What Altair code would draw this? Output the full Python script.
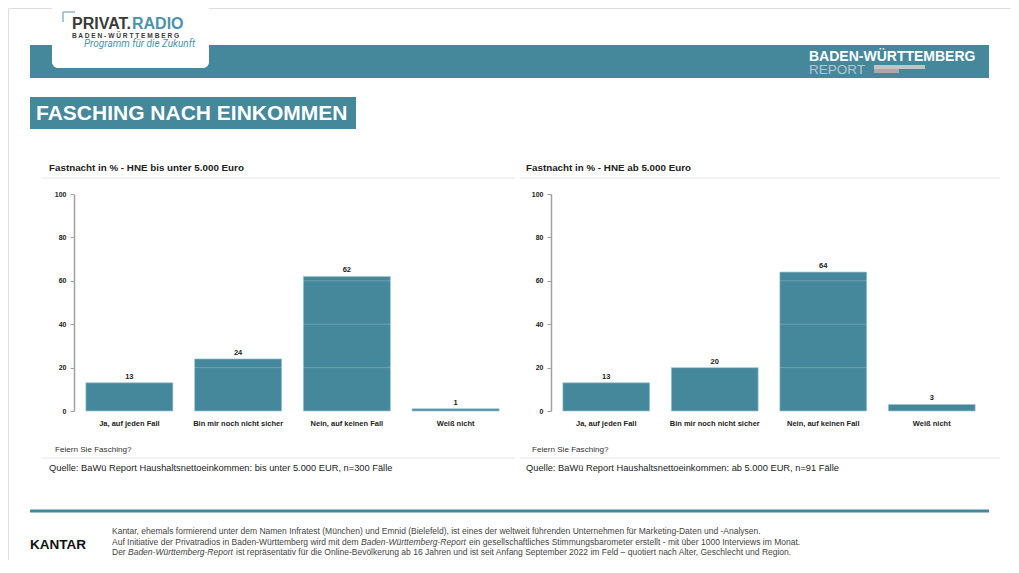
import altair as alt
import pandas as pd

# ---------------- data ----------------
categories = ["Ja, auf jeden Fall", "Bin mir noch nicht sicher", "Nein, auf keinen Fall", "Weiß nicht"]
values_low = [13, 24, 62, 1]      # HNE bis unter 5.000 Euro
values_high = [13, 20, 64, 3]     # HNE ab 5.000 Euro
y_ticks = [0, 20, 40, 60, 80, 100]

title_low = "Fastnacht in % - HNE bis unter 5.000 Euro"
title_high = "Fastnacht in % - HNE ab 5.000 Euro"
source_low = "Quelle: BaWü Report Haushaltsnettoeinkommen: bis unter 5.000 EUR, n=300 Fälle"
source_high = "Quelle: BaWü Report Haushaltsnettoeinkommen: ab 5.000 EUR, n=91 Fälle"
question = "Feiern Sie Fasching?"

W, H = 1003, 552
TEAL = "#45879B"
FONT = "Liberation Sans"
DARK = "#222222"
FOOT = "#444444"
FS = 8.5


def txt(t, x, y, size=9, color=DARK, weight="normal", style="normal", align="left",
        baseline="middle", font=FONT):
    return alt.Chart(pd.DataFrame({"t": [t]})).mark_text(
        align=align, baseline=baseline, fontSize=size, color=color,
        fontWeight=weight, fontStyle=style, font=font
    ).encode(x=alt.value(x), y=alt.value(y), text="t:N")


def rect(x, x2, y, y2, color, **kw):
    return alt.Chart(pd.DataFrame({"a": [0]})).mark_rect(color=color, **kw).encode(
        x=alt.value(x), x2=alt.value(x2), y=alt.value(y), y2=alt.value(y2))


def hline(x, x2, y, color, width=1):
    return alt.Chart(pd.DataFrame({"a": [0]})).mark_rule(color=color, strokeWidth=width).encode(
        x=alt.value(x), x2=alt.value(x2), y=alt.value(y))


def vline(x, y, y2, color, width=1):
    return alt.Chart(pd.DataFrame({"a": [0]})).mark_rule(color=color, strokeWidth=width).encode(
        x=alt.value(x), y=alt.value(y), y2=alt.value(y2))


Y0, Y1 = 403, 186


def panel(vals, xr, axis_x):
    df = pd.DataFrame({"cat": categories, "v": vals})
    gdf = pd.DataFrame({"v": y_ticks[1:]})
    xenc = alt.X("cat:N", sort=categories,
                 scale=alt.Scale(range=xr, paddingInner=0.2, paddingOuter=0.1),
                 axis=alt.Axis(orient="bottom", offset=Y0 - H, title=None, labelAngle=0,
                               domain=False, ticks=False, labelPadding=8, labelFontSize=7.5,
                               labelColor="#222222", labelFont=FONT, labelFontWeight="bold"))
    yenc = alt.Y("v:Q", scale=alt.Scale(domain=[0, 100], range=[Y0, Y1], nice=False, zero=True),
                 axis=alt.Axis(orient="left", offset=-axis_x, values=y_ticks, title=None,
                               grid=False, domainColor="#a0a0a0", domainWidth=1.5,
                               tickColor="#a0a0a0", tickSize=4, tickWidth=1,
                               labelFontSize=7, labelColor="#222222", labelFont=FONT,
                               labelFontWeight="bold", labelPadding=4))
    bars = alt.Chart(df).mark_bar(color=TEAL, stroke="#9cc6d2", strokeWidth=0.7).encode(
        x=xenc, y=yenc)
    grid = alt.Chart(gdf).mark_rule(color="white", opacity=0.22, strokeWidth=1).encode(
        y=yenc, x=alt.value(xr[0]), x2=alt.value(xr[1]))
    labels = alt.Chart(df).mark_text(dy=-6, fontSize=7.5, fontWeight="bold", color="#222222",
                                     font=FONT).encode(x=xenc, y=yenc, text="v:Q")
    return alt.layer(bars, grid, labels)


left = panel(values_low, [67, 502], 66)
right = panel(values_high, [544, 978], 543)

decor = [
    # header banner
    rect(22, 981, 37, 70, TEAL),
    rect(44, 201, -8, 60, "white", cornerRadiusBottomLeft=6, cornerRadiusBottomRight=6),
    hline(55, 67, 4, "#8fb7c6", 1.5),
    vline(55, 4, 14, "#8fb7c6", 1.5),
    txt("PRIVAT.", 64, 21, size=16, color="#3a3a3a", weight="bold", baseline="alphabetic"),
    txt("RADIO", 124, 21, size=16, color="#4b93aa", weight="bold", baseline="alphabetic"),
    txt("B A D E N - W Ü R T T E M B E R G", 64, 30, size=6.6, color="#3a3a3a", weight="bold",
        baseline="alphabetic"),
    txt("Programm für die Zukunft", 76, 39, size=10, color="#4b93aa", style="italic",
        baseline="alphabetic", font="Roboto"),
    txt("BADEN-WÜRTTEMBERG", 801, 53, size=14, color="white", weight="bold", baseline="alphabetic"),
    txt("REPORT", 801, 66, size=13.5, color="#b9c6cc", baseline="alphabetic"),
    rect(866, 917, 57, 61, "#c4c4c4"),
    rect(866, 891, 61, 65, "#a9a9a9"),
    # title box
    rect(22, 348, 89, 121, TEAL),
    txt("FASCHING NACH EINKOMMEN", 28, 106, size=21, color="white", weight="bold"),
    # left panel text
    txt(title_low, 41, 160, size=9.8, weight="bold"),
    hline(34, 507, 170, "#e6e6e6"),
    txt(question, 47, 442, size=8.1, color="#333333"),
    hline(34, 507, 450, "#e6e6e6"),
    txt(source_low, 41, 460, size=9.3, color=DARK),
    # right panel text
    txt(title_high, 518, 160, size=9.8, weight="bold"),
    hline(512, 992, 170, "#e6e6e6"),
    txt(question, 524, 442, size=8.1, color="#333333"),
    hline(512, 992, 450, "#e6e6e6"),
    txt(source_high, 518, 460, size=9.3, color=DARK),
    # footer
    hline(22, 981, 503, TEAL, 3),
    txt("KANTAR", 22, 537, size=13.5, color="#111111", weight="bold"),
    txt("Kantar, ehemals formierend unter dem Namen Infratest (München) und Emnid  (Bielefeld), ist eines der weltweit führenden Unternehmen für Marketing-Daten und -Analysen.",
        104, 523, size=FS, color=FOOT),
    txt("Auf Initiative der Privatradios in Baden-Württemberg wird mit dem", 104, 534, size=FS, color=FOOT),
    txt("Baden-Württemberg-Report", 353, 534, size=FS, color=FOOT, style="italic"),
    txt("ein gesellschaftliches Stimmungsbarometer erstellt - mit über 1000 Interviews im Monat.", 461, 534,
        size=FS, color=FOOT),
    txt("Der", 104, 544, size=FS, color=FOOT),
    txt("Baden-Württemberg-Report", 120, 544, size=FS, color=FOOT, style="italic"),
    txt("ist repräsentativ für die Online-Bevölkerung ab 16 Jahren und ist seit Anfang September 2022 im Feld – quotiert nach Alter, Geschlecht und Region.",
        228, 544, size=FS, color=FOOT),
]

chart = alt.layer(left, right, *decor).resolve_scale(
    x="independent", y="independent"
).resolve_axis(x="independent", y="independent").properties(
    width=W, height=H, autosize=alt.AutoSizeParams(type="none"), padding=0
).configure_view(stroke=None).configure(background="white")

chart.save("out.html", embed_options={"renderer": "svg", "actions": False})
